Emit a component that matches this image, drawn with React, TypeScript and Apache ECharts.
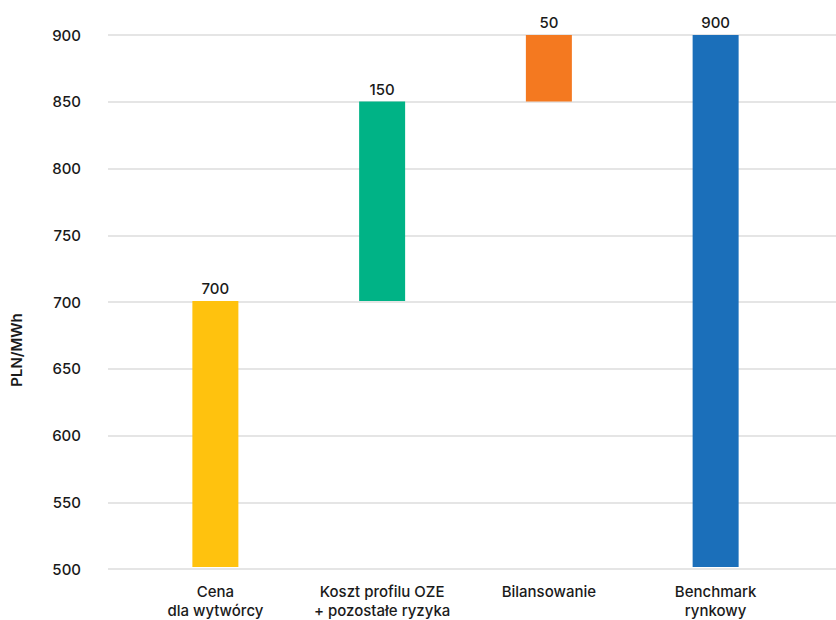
import React, { useEffect, useRef } from "react";
import * as echarts from "echarts";

// Waterfall of the electricity price build-up (PLN/MWh)
const categories = ["Cena\ndla wytwórcy", "Koszt profilu OZE\n+ pozostałe ryzyka", "Bilansowanie", "Benchmark\nrynkowy"];
const baseValues = [0, 700, 850, 0];
const stepValues = [700, 150, 50, 900];
const barColors = ["#FFC20E", "#00B386", "#F47920", "#1B6FBA"];
const yTicks = { min: 500, max: 900, interval: 50 };
const yTitle = "PLN/MWh";

const FONT = "Inter, 'Open Sans', sans-serif";
const TEXT = "#1a1a1a";

export default function App() {
  const ref = useRef<HTMLDivElement>(null);

  useEffect(() => {
    if (!ref.current) return;
    const chart = echarts.init(ref.current, undefined, { renderer: "svg" });
    chart.setOption({
      animation: false,
      backgroundColor: "#fff",
      grid: [
        { left: 108, right: 0, top: 35, bottom: 51 },
        { left: 132, right: 37, top: 35, bottom: 51 },
      ],
      graphic: [
        {
          type: "text",
          x: 16,
          y: 350,
          rotation: Math.PI / 2,
          style: {
            text: yTitle,
            fill: TEXT,
            font: `600 15px ${FONT}`,
            align: "center",
            verticalAlign: "middle",
          },
        },
      ],
      xAxis: [
        { type: "category", gridIndex: 0, data: categories, show: false },
        {
          type: "category",
          gridIndex: 1,
          data: categories,
          axisLine: { show: false },
          axisTick: { show: false },
          axisLabel: {
            color: TEXT,
            fontFamily: FONT,
            fontSize: 15,
            fontWeight: 500,
            lineHeight: 19,
            margin: 15,
            interval: 0,
          },
        },
      ],
      yAxis: [
        {
          type: "value",
          gridIndex: 0,
          ...yTicks,
          axisLine: { show: false },
          axisTick: { show: false },
          axisLabel: { color: TEXT, fontFamily: FONT, fontSize: 15, fontWeight: 500, margin: 27 },
          splitLine: { lineStyle: { color: "#dcdcdc", width: 1.5 } },
        },
        {
          type: "value",
          gridIndex: 1,
          ...yTicks,
          show: false,
          splitLine: { show: false },
        },
      ],
      series: [
        {
          type: "bar",
          xAxisIndex: 1,
          yAxisIndex: 1,
          stack: "w",
          data: baseValues,
          barWidth: 46,
          itemStyle: { color: "transparent" },
          silent: true,
        },
        {
          type: "bar",
          xAxisIndex: 1,
          yAxisIndex: 1,
          stack: "w",
          barWidth: 46,
          data: stepValues.map((v, i) => ({ value: v, itemStyle: { color: barColors[i] } })),
          label: {
            show: true,
            position: "top",
            distance: 5,
            color: TEXT,
            fontFamily: FONT,
            fontSize: 15,
            fontWeight: 500,
          },
        },
      ],
    });
    return () => chart.dispose();
  }, []);

  return (
    <div
      ref={ref}
      style={{ position: "fixed", left: 0, top: 0, width: 836, height: 620 }}
    />
  );
}
